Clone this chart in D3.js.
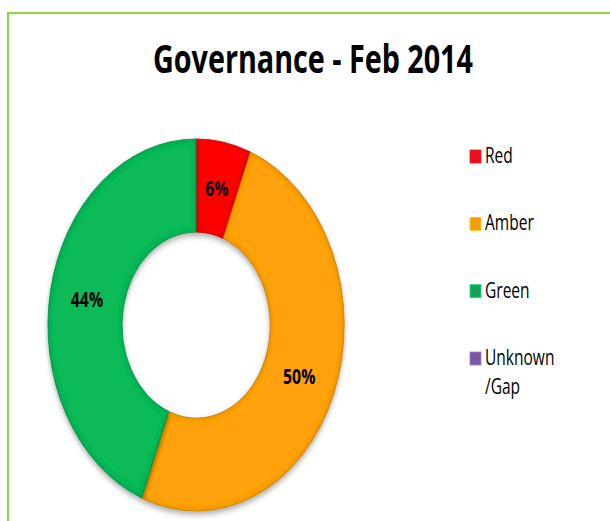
<!DOCTYPE html>
<html>
<head>
<meta charset="utf-8">
<script src="https://cdn.jsdelivr.net/npm/d3@7/dist/d3.min.js"></script>
<style>
  html, body { margin: 0; padding: 0; background: #ffffff; }
  svg { display: block; }
</style>
</head>
<body>
<svg id="chart" width="610" height="521"></svg>
<script>
// Chart content
const title = "Governance - Feb 2014";
const categories = ["Red", "Amber", "Green", "Unknown\n/Gap"];
const values = [6, 50, 44, 0];
const sliceColors = ["#ff0000", "#ffa20a", "#0bba58", "#7f5fa8"];
const legendColors = ["#e8101a", "#f39c0d", "#12a25c", "#7a5aa0"];

const svg = d3.select("#chart");
const W = 610, H = 521;

// Frame
svg.append("rect")
  .attr("x", 8).attr("y", 13)
  .attr("width", W + 20).attr("height", H + 20)
  .attr("fill", "#ffffff")
  .attr("stroke", "#92d050")
  .attr("stroke-width", 2.2);

const defs = svg.append("defs");

// Drop shadow plus a slight darkening along the slice edges
const fx = defs.append("filter").attr("id", "ringfx")
  .attr("x", "-20%").attr("y", "-20%").attr("width", "140%").attr("height", "140%");
fx.append("feMorphology").attr("in", "SourceAlpha").attr("operator", "erode").attr("radius", 1.5).attr("result", "er");
fx.append("feGaussianBlur").attr("in", "er").attr("stdDeviation", 1.5).attr("result", "erb");
fx.append("feComposite").attr("in", "SourceAlpha").attr("in2", "erb").attr("operator", "out").attr("result", "edge");
fx.append("feFlood").attr("flood-color", "#000").attr("flood-opacity", 0.18).attr("result", "dk");
fx.append("feComposite").attr("in", "dk").attr("in2", "edge").attr("operator", "in").attr("result", "edgeDark");
fx.append("feGaussianBlur").attr("in", "SourceAlpha").attr("stdDeviation", 2.5).attr("result", "sblur");
fx.append("feOffset").attr("in", "sblur").attr("dx", 0).attr("dy", 2).attr("result", "soff");
fx.append("feComponentTransfer").attr("in", "soff").attr("result", "sfade")
  .append("feFuncA").attr("type", "linear").attr("slope", 0.35);
const merge = fx.append("feMerge");
merge.append("feMergeNode").attr("in", "sfade");
merge.append("feMergeNode").attr("in", "SourceGraphic");
merge.append("feMergeNode").attr("in", "edgeDark");

// Fit text to a given width and cap height
function fitText(sel, width, capHeight, fontSize) {
  const len = sel.node().getComputedTextLength();
  return [width / len, capHeight / (0.714 * fontSize)];
}

// Title
const titleSize = 30;
const titleText = svg.append("text")
  .attr("text-anchor", "middle")
  .attr("font-family", "Open Sans")
  .attr("font-weight", 700)
  .attr("font-size", titleSize)
  .attr("fill", "#000")
  .text(title);
const [tsx, tsy] = fitText(titleText, 320, 28, titleSize);
titleText.attr("transform", `translate(313,73) scale(${tsx},${tsy})`);

// Donut
const cx = 196, cy = 325;
const rOuter = 148, rInner = 74;
const yStretch = 186 / 148;

const pie = d3.pie().sort(null).value(d => d.value);
const data = categories.map((c, i) => ({ name: c, value: values[i], color: sliceColors[i] }));
const arcs = pie(data);
const total = d3.sum(values);

const arc = d3.arc().innerRadius(rInner).outerRadius(rOuter);

const ring = svg.append("g")
  .attr("transform", `translate(${cx},${cy}) scale(1,${yStretch})`);

ring.selectAll("path")
  .data(arcs.filter(d => d.data.value > 0))
  .join("path")
  .attr("d", arc)
  .attr("fill", d => d.data.color)
  .attr("stroke", d => d3.color(d.data.color).darker(0.5))
  .attr("stroke-width", 0.7)
  .attr("filter", "url(#ringfx)");

// Percentage labels at slice centroids
const fmt = d3.format(".0%");
arcs.filter(d => d.data.value > 0).forEach(d => {
  const [x, y] = arc.centroid(d);
  svg.append("text")
    .attr("text-anchor", "middle")
    .attr("font-family", "Open Sans")
    .attr("font-weight", 700)
    .attr("font-size", 18)
    .attr("fill", "#000")
    .attr("transform", `translate(${cx + x},${cy + y * yStretch + 8}) scale(0.88,1.22)`)
    .text(fmt(d.data.value / total));
});

// Legend
const legendX = 470;
const legendY = d3.scalePoint().domain(categories).range([163, 365]);
const legend = svg.append("g");
categories.forEach((c, i) => {
  const base = legendY(c);
  legend.append("rect")
    .attr("x", legendX).attr("y", base - 13)
    .attr("width", 11).attr("height", 13)
    .attr("fill", legendColors[i])
    .attr("stroke", d3.color(legendColors[i]).brighter(0.8))
    .attr("stroke-width", 0.8);
  c.split("\n").forEach((line, j) => {
    legend.append("text")
      .attr("transform", `translate(${legendX + 15},${base + j * 29}) scale(0.84,1.15)`)
      .attr("font-family", "Open Sans")
      .attr("font-size", 18.5)
      .attr("fill", "#000")
      .text(line);
  });
});
</script>
</body>
</html>
